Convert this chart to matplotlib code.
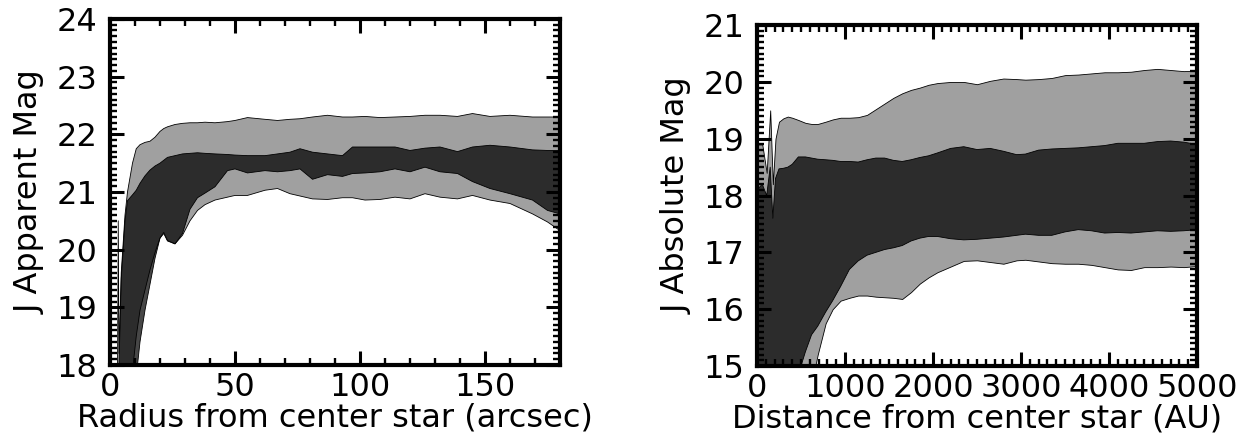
import numpy as np
import matplotlib
matplotlib.use('Agg')
import matplotlib.pyplot as plt
from matplotlib.ticker import MultipleLocator

# ---- left panel: apparent magnitude vs radius (arcsec) ----
radius = [0, 2, 3, 3.3, 3.6, 4.5, 6, 7, 9, 10.5, 12, 14, 16, 18, 20, 21.5, 23, 26, 29,
          32, 35, 38, 42, 47, 50, 55, 62, 67, 72, 76, 81, 87, 93, 97, 102, 108, 114,
          120, 126, 132, 139, 145, 152, 160, 169, 175, 180]
app_outer_hi = [16.0, 17.0, 17.8, 20.5, 18.2, 19.6, 20.6, 21.0, 21.5, 21.75, 21.82, 21.86,
                21.88, 21.95, 22.05, 22.1, 22.13, 22.17, 22.19, 22.2, 22.2, 22.21, 22.2,
                22.22, 22.24, 22.29, 22.26, 22.24, 22.26, 22.27, 22.3, 22.33, 22.3, 22.3,
                22.31, 22.29, 22.3, 22.31, 22.33, 22.33, 22.31, 22.36, 22.31, 22.33, 22.3,
                22.3, 22.3]
app_outer_lo = [14, 14, 14, 14, 14, 14, 15, 16, 17.9, 18.5, 18.95, 19.3, 19.65, 19.95, 20.2,
                20.28, 20.15, 20.1, 20.25, 20.5, 20.68, 20.78, 20.86, 20.91, 20.94, 20.94,
                21.03, 21.06, 20.97, 20.93, 20.88, 20.87, 20.9, 20.9, 20.86, 20.87, 20.91,
                20.88, 20.97, 20.91, 20.88, 20.94, 20.86, 20.8, 20.62, 20.48, 20.33]
app_inner_hi = [16.0, 16.8, 17.5, 17.8, 18.0, 19.5, 20.5, 20.85, 20.95, 21.03, 21.15, 21.28,
                21.38, 21.45, 21.5, 21.55, 21.6, 21.63, 21.66, 21.67, 21.68, 21.67, 21.66,
                21.65, 21.64, 21.63, 21.63, 21.66, 21.69, 21.75, 21.69, 21.66, 21.63, 21.78,
                21.78, 21.78, 21.78, 21.72, 21.76, 21.78, 21.7, 21.78, 21.81, 21.78, 21.73,
                21.72, 21.72]
app_inner_lo = [14, 14, 14, 14, 14, 14, 14, 14.5, 16.5, 17.8, 18.4, 18.95, 19.4, 19.85, 20.2,
                20.3, 20.16, 20.1, 20.28, 20.7, 20.9, 20.98, 21.09, 21.37, 21.4, 21.33,
                21.37, 21.35, 21.37, 21.4, 21.22, 21.3, 21.27, 21.32, 21.33, 21.35, 21.4,
                21.35, 21.43, 21.35, 21.32, 21.18, 21.06, 20.97, 20.86, 20.68, 20.62]

# ---- right panel: absolute magnitude vs distance (AU) ----
dist = [0, 60, 110, 150, 180, 210, 250, 300, 350, 400, 470, 550, 620, 690, 780, 860, 950,
        1050, 1150, 1250, 1350, 1450, 1550, 1650, 1750, 1850, 1950, 2050, 2200, 2350, 2500,
        2650, 2800, 2950, 3050, 3200, 3350, 3500, 3650, 3800, 3950, 4100, 4250, 4400, 4550,
        4700, 4850, 5000]
abs_outer_hi = [18.9, 18.9, 18.4, 19.5, 18.2, 19.0, 19.3, 19.36, 19.39, 19.37, 19.33, 19.28,
                19.26, 19.26, 19.3, 19.34, 19.37, 19.37, 19.38, 19.42, 19.52, 19.62, 19.72,
                19.8, 19.86, 19.9, 19.95, 19.98, 20.0, 20.0, 19.96, 20.02, 20.06, 20.05,
                20.04, 20.05, 20.07, 20.12, 20.13, 20.15, 20.17, 20.17, 20.18, 20.21, 20.23,
                20.21, 20.19, 20.2]
abs_outer_lo = [14, 14, 14, 14, 14, 14, 14, 14, 14, 14, 14, 14, 14.7, 15.2, 15.75, 16.0,
                16.15, 16.2, 16.24, 16.24, 16.22, 16.21, 16.2, 16.18, 16.3, 16.45, 16.56,
                16.65, 16.75, 16.85, 16.86, 16.83, 16.8, 16.86, 16.87, 16.84, 16.81, 16.8,
                16.8, 16.78, 16.74, 16.7, 16.69, 16.74, 16.74, 16.75, 16.74, 16.76]
abs_inner_hi = [18.1, 18.2, 18.0, 18.5, 17.6, 18.3, 18.47, 18.48, 18.5, 18.55, 18.68, 18.68,
                18.66, 18.64, 18.63, 18.62, 18.6, 18.6, 18.59, 18.63, 18.66, 18.66, 18.62,
                18.6, 18.63, 18.67, 18.7, 18.75, 18.83, 18.86, 18.81, 18.83, 18.78, 18.72,
                18.73, 18.8, 18.82, 18.83, 18.84, 18.86, 18.88, 18.92, 18.92, 18.92, 18.95,
                18.96, 18.94, 18.9]
abs_inner_lo = [14, 14, 14, 14, 14, 14, 14, 14, 14, 14, 14.85, 15.25, 15.55, 15.7, 15.95,
                16.15, 16.4, 16.7, 16.85, 16.95, 17.0, 17.05, 17.08, 17.12, 17.2, 17.25,
                17.28, 17.28, 17.24, 17.22, 17.23, 17.25, 17.27, 17.3, 17.32, 17.3, 17.3,
                17.36, 17.4, 17.38, 17.34, 17.35, 17.34, 17.36, 17.38, 17.37, 17.38, 17.4]

FS = 23


def style_axes(ax, xmajor, xminor):
    for sp in ax.spines.values():
        sp.set_linewidth(3)
    ax.xaxis.set_major_locator(MultipleLocator(xmajor))
    ax.xaxis.set_minor_locator(MultipleLocator(xminor))
    ax.yaxis.set_major_locator(MultipleLocator(1))
    ax.yaxis.set_minor_locator(MultipleLocator(0.1))
    ax.tick_params(which='both', direction='in', top=True, right=True, labelsize=FS)
    ax.tick_params(which='major', length=10, width=2.2)
    ax.tick_params(which='minor', length=5, width=1.7)
    ax.tick_params(axis='x', which='major', pad=5)
    ax.tick_params(axis='y', which='major', pad=9)


def draw_bands(ax, x, o_lo, o_hi, i_lo, i_hi):
    ax.fill_between(x, o_lo, o_hi, facecolor='#a0a0a0', edgecolor='black', linewidth=0.6)
    ax.fill_between(x, i_lo, i_hi, facecolor='black', alpha=0.72, edgecolor='none')
    ax.plot(x, i_hi, color='black', linewidth=0.6)
    ax.plot(x, i_lo, color='black', linewidth=0.6)


fig = plt.figure(figsize=(12.5, 4.37), dpi=100)

ax1 = fig.add_axes([0.088, 0.1648, 0.36, 0.7918])
draw_bands(ax1, radius, app_outer_lo, app_outer_hi, app_inner_lo, app_inner_hi)
ax1.set_xlim(0, 180)
ax1.set_ylim(18, 24)
style_axes(ax1, 50, 10)
ax1.set_xlabel('Radius from center star (arcsec)', fontsize=FS, labelpad=0)
ax1.set_ylabel('J Apparent Mag', fontsize=FS, labelpad=8)

ax2 = fig.add_axes([0.6056, 0.1625, 0.352, 0.780])
draw_bands(ax2, dist, abs_outer_lo, abs_outer_hi, abs_inner_lo, abs_inner_hi)
ax2.set_xlim(0, 5000)
ax2.set_ylim(15, 21)
style_axes(ax2, 1000, 100)
ax2.set_xlabel('Distance from center star (AU)', fontsize=FS, labelpad=0)
ax2.set_ylabel('J Absolute Mag', fontsize=FS, labelpad=8)

fig.savefig('out.png', dpi=100)
